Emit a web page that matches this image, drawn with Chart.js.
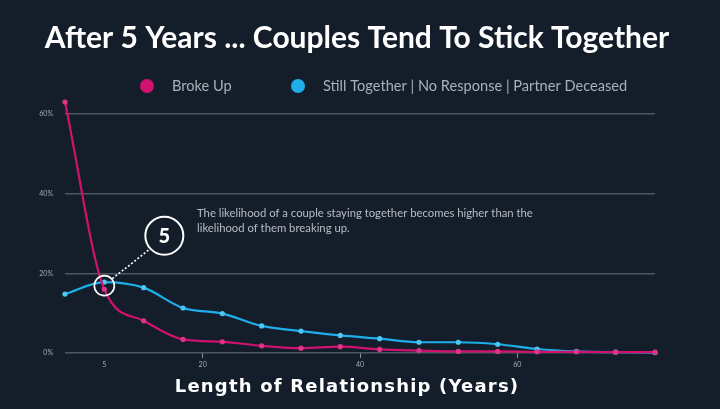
<!DOCTYPE html>
<html>
<head>
<meta charset="utf-8">
<script src="https://cdn.jsdelivr.net/npm/chart.js@4/dist/chart.umd.min.js"></script>
<style>
  html, body { margin: 0; padding: 0; background: #141e2b; }
  #wrap { width: 720px; height: 409px; }
</style>
</head>
<body>
<div id="wrap"><canvas id="chart"></canvas></div>
<script>
const years = [2.5, 7.5, 12.5, 17.5, 22.5, 27.5, 32.5, 37.5, 42.5, 47.5, 52.5, 57.5, 62.5, 67.5, 72.5, 77.5];
const brokeUp = [63, 16, 8.1, 3.4, 2.8, 1.8, 1.2, 1.6, 0.9, 0.6, 0.4, 0.4, 0.3, 0.3, 0.2, 0.2];
const stillTogether = [14.8, 17.8, 16.4, 11.3, 9.9, 6.8, 5.5, 4.4, 3.6, 2.7, 2.7, 2.2, 1.0, 0.4, 0.2, 0.1];

const xTickValues = [7.5, 20, 40, 60];
const xTickLabels = ["5", "20", "40", "60"];
const yTickValues = [0, 20, 40, 60];

const seriesNames = ["Broke Up", "Still Together | No Response | Partner Deceased"];
const pink = "#d0126f";
const blue = "#1eaeea";

const noteLines = [
  "The likelihood of a couple staying together becomes higher than the",
  "likelihood of them breaking up."
];

// title, legend, note and axis title drawn on top of the chart
const overlay = {
  id: "overlay",
  afterDraw(chart) {
    const { ctx, scales } = chart;
    ctx.save();

    ctx.fillStyle = "#ffffff";
    ctx.font = "bold 30px Lato";
    ctx.textAlign = "center";
    ctx.textBaseline = "middle";
    ctx.fillText("After 5 Years ... Couples Tend To Stick Together", 357, 38);

    // legend
    const legendItems = [
      { x: 147, color: pink, label: seriesNames[0] },
      { x: 298, color: blue, label: seriesNames[1] },
    ];
    ctx.font = "14.6px Lato";
    ctx.textAlign = "left";
    for (const item of legendItems) {
      ctx.beginPath();
      ctx.arc(item.x, 86, 7, 0, Math.PI * 2);
      ctx.fillStyle = item.color;
      ctx.fill();
      ctx.fillStyle = "#aab0b8";
      ctx.fillText(item.label, item.x + 25, 86);
    }

    // crossing annotation
    const cx = scales.x.getPixelForValue(years[1]);
    const cy = scales.y.getPixelForValue((brokeUp[1] + stillTogether[1]) / 2);
    ctx.strokeStyle = "#ffffff";
    ctx.lineWidth = 1.6;
    ctx.beginPath();
    ctx.arc(cx, cy, 10, 0, Math.PI * 2);
    ctx.stroke();

    const bx = cx + 60;
    const by = cy - 50;
    ctx.setLineDash([2, 2]);
    ctx.beginPath();
    ctx.moveTo(cx + 8, cy - 7);
    ctx.lineTo(bx - 14, by + 13);
    ctx.stroke();
    ctx.setLineDash([]);
    ctx.lineWidth = 2;
    ctx.beginPath();
    ctx.arc(bx, by, 19, 0, Math.PI * 2);
    ctx.stroke();
    ctx.fillStyle = "#ffffff";
    ctx.font = "900 20px Lato";
    ctx.textAlign = "center";
    ctx.fillText("5", bx, by + 1);

    ctx.font = "11.3px Lato";
    ctx.textAlign = "left";
    ctx.fillStyle = "#b8bcc3";
    noteLines.forEach((line, i) => ctx.fillText(line, 197, 213 + i * 15));

    // x axis title
    ctx.font = "bold 18px 'DejaVu Sans'";
    ctx.letterSpacing = "1.2px";
    ctx.textAlign = "center";
    ctx.fillStyle = "#ffffff";
    ctx.fillText("Length of Relationship (Years)", 347, 387);

    ctx.restore();
  },
};

new Chart(document.getElementById("chart"), {
  type: "line",
  data: {
    datasets: [
      {
        label: seriesNames[0],
        data: years.map((x, i) => ({ x, y: brokeUp[i] })),
        borderColor: pink,
        backgroundColor: "#e0338a",
        pointBackgroundColor: "#e0338a",
        pointBorderWidth: 0,
        pointRadius: 2.6,
        borderWidth: 2.2,
        cubicInterpolationMode: "monotone",
      },
      {
        label: seriesNames[1],
        data: years.map((x, i) => ({ x, y: stillTogether[i] })),
        borderColor: blue,
        backgroundColor: "#4cc6f2",
        pointBackgroundColor: "#4cc6f2",
        pointBorderWidth: 0,
        pointRadius: 2.6,
        borderWidth: 2.2,
        cubicInterpolationMode: "monotone",
      },
    ],
  },
  options: {
    responsive: true,
    maintainAspectRatio: false,
    animation: false,
    clip: false,
    layout: { padding: { top: 98, right: 65, left: 0, bottom: 0 } },
    plugins: {
      legend: { display: false },
      title: { display: false },
      tooltip: { enabled: false },
    },
    scales: {
      x: {
        type: "linear",
        min: years[0],
        max: years[years.length - 1],
        afterFit: (scale) => { scale.height = 56; },
        afterBuildTicks: (scale) => {
          scale.ticks = xTickValues.map((value) => ({ value }));
        },
        border: { display: false },
        grid: {
          drawOnChartArea: false,
          drawTicks: true,
          tickLength: 5,
          tickColor: (c) => (c.index === 0 ? "rgba(0,0,0,0)" : "#8a919b"),
        },
        ticks: {
          color: "#a3a9b1",
          font: { family: "Lato", size: 7 },
          padding: 3,
          maxRotation: 0,
          autoSkip: false,
          callback: (value, index) => xTickLabels[index],
        },
      },
      y: {
        min: 0,
        max: 64,
        afterFit: (scale) => { scale.width = 65; },
        afterBuildTicks: (scale) => {
          scale.ticks = yTickValues.map((value) => ({ value }));
        },
        border: { display: false },
        grid: { color: "#4e5764", lineWidth: 1.5, drawTicks: false },
        ticks: {
          color: "#a3a9b1",
          font: { family: "Lato", size: 7 },
          padding: 12,
          callback: (value) => value + "%",
        },
      },
    },
  },
  plugins: [overlay],
});
</script>
</body>
</html>
